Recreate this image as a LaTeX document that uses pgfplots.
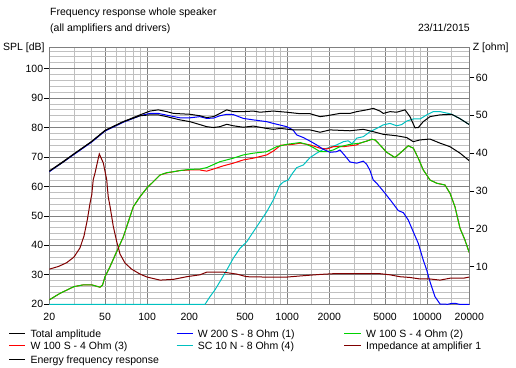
\documentclass[border=0pt]{standalone}
\usepackage{fontspec}
\setmainfont{Liberation Sans}
\usepackage{pgfplots}
\pgfplotsset{compat=1.18}
\definecolor{gmaj}{RGB}{128,128,128}
\definecolor{gmin}{RGB}{192,192,192}
\definecolor{cgreen}{RGB}{0,210,0}
\definecolor{ccyan}{RGB}{0,192,192}
\definecolor{cdred}{RGB}{128,0,0}
\newcommand{\tf}{\fontsize{10.5bp}{12bp}\selectfont}
\begin{document}
\begin{tikzpicture}[font=\tf]
\path[use as bounding box] (-49.3bp,-63.7bp) rectangle (466.7bp,304.3bp);
\begin{axis}[
  at={(0,0)}, anchor=south west, scale only axis,
  width=420bp, height=256.6bp,
  xmode=log, xmin=20, xmax=20000,
  /pgf/number format/assume math mode=true,
  tick label style={font=\tf},
  tick align=outside,
  major tick length=5bp, minor tick length=0pt,
  ymin=20, ymax=107.1,
  xtick={20,50,100,200,500,1000,2000,5000,10000,20000},
  xticklabels={20,50,100,200,500,1000,2000,5000,10000,20000},
  minor xtick={30,40,60,70,80,90,150,300,400,600,700,800,900,1500,3000,4000,6000,7000,8000,9000,15000},
  ytick={20,30,...,100},
  minor ytick={22,24,...,106},
  grid=both,
  major grid style={gmaj, line width=0.8bp},
  minor grid style={gmin, line width=0.8bp},
  axis line style={gmaj, line width=0.8bp},
  xtick style={draw=none},
  ytick style={black, line width=0.7bp},
  xtick pos=bottom, ytick pos=left,
  xticklabel style={anchor=base, inner sep=0pt, yshift=-11.2bp},
  yticklabel style={inner sep=1bp},
  every axis plot/.append style={line width=1bp, mark=none},
]
% SC 10 N - 8 Ohm (4)
\addplot[ccyan] coordinates {
(20,20) (259,20) (281,22.6) (305,24.9) (331,27.7) (370,31.6) (412,35.6) (460,39.0)
(514,41.2) (573,44.6) (640,48.0) (714,51.4) (796,55.4) (889,60.5) (938,61.5)
(1018,62.2) (1078,64.1) (1170,66.4) (1305,67.3) (1456,69.8) (1626,71.3) (1812,72.6)
(2024,73.3) (2260,74.1) (2518,75.2) (2734,75.5) (2900,74.5) (3140,76.4) (3500,76.9)
(3910,78.6) (4360,79.7) (4860,80.9) (5430,81.4) (6060,80.6) (6580,81.0) (7140,82.2)
(7960,82.9) (8890,82.9) (9930,84.3) (11060,85.4) (12360,85.4) (14160,84.8)
(14960,84.5) (17170,83.0) (19680,81.2) (20000,81.0)};
% W 100 S - 4 Ohm (3)
\addplot[red] coordinates {
(20,21.5) (23.8,23.7) (30,26.0) (35,26.6) (40.2,26.6) (46,25.8) (48,26.5) (50,29.4)
(54.3,32.8) (60.6,37.9) (67.6,42.9) (79.6,53.1) (88.9,56.5) (99.2,59.4) (113.8,62.2)
(123.6,63.9) (138,64.6) (154,65.0) (171.6,65.4) (202,65.6) (238,65.6) (266,65.2)
(297,65.9) (350,67.0) (412,67.9) (486,69.0) (573,69.6) (714,70.7) (796,72.0)
(900,74.0) (1100,74.3) (1236,74.7) (1456,74.1) (1718,73.0) (1916,72.7) (2138,73.5)
(2518,73.5) (2812,73.8) (3140,74.1) (3310,74.7) (3700,75.4) (4020,76.0) (4240,75.8)
(4600,74.1) (5140,71.6) (5890,69.8) (6580,71.8) (7330,73.8) (7960,73.0) (8640,69.6)
(9380,65.6) (9930,63.9) (10470,62.2) (11700,61.1) (13400,60.5) (14560,57.7)
(15800,53.1) (17170,45.8) (18620,41.8) (20000,37.5)};
% W 100 S - 4 Ohm (2)
\addplot[cgreen] coordinates {
(20,21.5) (23.8,23.7) (30,26.0) (35,26.6) (40.2,26.6) (46,25.8) (48,26.5) (50,29.4)
(54.3,32.8) (60.6,37.9) (67.6,42.9) (79.6,53.1) (88.9,56.5) (99.2,59.4) (113.8,62.2)
(123.6,63.9) (138,64.7) (154,65.0) (171.6,65.4) (202,65.8) (238,65.9) (266,66.4)
(331,68.4) (412,69.6) (486,70.7) (573,71.3) (714,71.8) (842,73.5) (992,74.3)
(1236,74.9) (1380,74.3) (1538,73.2) (1718,71.8) (1916,71.8) (2138,72.4) (2384,73.5)
(2812,74.3) (3310,74.7) (3700,75.4) (4020,76.0) (4240,75.8) (4600,74.1) (5140,71.6)
(5890,69.8) (6580,71.8) (7330,73.8) (7960,73.0) (8640,69.6) (9380,65.6) (9930,63.9)
(10470,62.2) (11700,61.1) (13400,60.5) (14560,57.7) (15800,53.1) (17170,45.8)
(18620,41.8) (20000,37.5)};
% W 200 S - 8 Ohm (1)
\addplot[blue] coordinates {
(20,65.0) (29.7,70.7) (40,75.0) (50,78.8) (67.6,81.8) (88.9,84.0) (104.8,84.8)
(120,84.8) (138,84.2) (171.6,83.3) (202,83.3) (238,83.7) (266,83.1) (297,83.2)
(331,84.0) (370,84.5) (412,84.4) (486,83.1) (573,82.6) (714,82.0) (796,81.4)
(992,80.3) (1100,79.2) (1170,77.5) (1305,76.6) (1456,75.4) (1626,74.1) (1812,72.6)
(2024,71.6) (2260,71.8) (2384,72.4) (2590,70.4) (2812,68.3) (3140,67.9) (3500,68.6)
(3700,67.5) (3900,65.5) (4120,62.2) (4360,61.1) (5000,57.7) (5580,54.8) (6220,51.8)
(6760,51.1) (7330,48.6) (7960,44.6) (8640,40.7) (9380,35.0) (9930,31.6) (10470,27.7)
(11370,22.6) (12360,20.1) (14000,20.0) (15000,20.3) (16000,20.3) (17000,20.0)
(20000,20.0)};
% Energy frequency response
\addplot[black] coordinates {
(20,65.2) (29.7,70.9) (40,75.2) (50,79.0) (67.6,82.0) (88.9,84.0) (104.8,84.3)
(120,84.3) (138,83.7) (171.6,82.6) (202,82.0) (238,81.0) (266,80.3) (297,80.0)
(331,80.3) (370,81.1) (412,80.6) (486,80.1) (573,80.5) (714,79.7) (796,79.4)
(900,79.7) (1100,79.2) (1456,79.2) (1718,78.4) (2024,79.2) (2812,78.9) (3500,79.4)
(4120,78.6) (4860,77.7) (6060,77.2) (7140,76.6) (7960,75.2) (8890,75.8) (10470,76.1)
(12360,74.7) (14560,73.5) (17170,71.3) (19680,69.0) (20000,68.7)};
% Total amplitude
\addplot[black] coordinates {
(20,65.2) (25,68.2) (29.7,70.9) (40,75.2) (50,79.0) (67.6,82.0) (88.9,84.3)
(104.8,85.6) (120,86.0) (138,85.4) (154,84.8) (202,84.5) (238,84.0) (266,83.4)
(297,83.7) (331,84.8) (370,86.0) (412,85.4) (486,85.4) (573,85.6) (640,85.2)
(796,85.6) (992,85.2) (1236,84.7) (1456,84.7) (1718,83.7) (1916,84.0) (2384,84.8)
(2812,84.8) (3140,85.4) (3700,86.0) (4120,86.5) (4600,85.6) (4860,84.8) (5430,85.4)
(6060,85.2) (6950,86.0) (7540,83.7) (8190,79.9) (8640,80.0) (9380,82.0) (10470,83.7)
(12360,84.3) (14960,84.5) (17170,83.0) (19680,81.2) (20000,81.0)};
\end{axis}
\begin{axis}[
  at={(0,0)}, anchor=south west, scale only axis,
  width=420bp, height=256.6bp,
  xmode=log, xmin=20, xmax=20000,
  /pgf/number format/assume math mode=true,
  tick label style={font=\tf},
  tick align=outside,
  major tick length=5bp, minor tick length=0pt,
  ymin=0, ymax=67.9,
  axis x line=none,
  axis y line*=right,
  ytick={10,20,...,60},
  axis line style={gmaj, line width=0.8bp},
  ytick style={black, line width=0.7bp},
  yticklabel style={inner sep=1.5bp},
  every axis plot/.append style={line width=1bp, mark=none},
]
% Impedance at amplifier 1
\addplot[cdred] coordinates {
(20,9.3) (23.2,10.0) (26.6,11.0) (30,12.5) (33.1,14.9) (35.4,18.1) (37.4,22.4)
(39.1,26.8) (40.2,29.0) (41.2,33.0) (42.4,34.7) (45.5,39.8) (48.6,37.4) (51.4,33.0)
(52.7,28.5) (54.3,25.9) (57.3,20.6) (60.6,16.6) (64,13.3) (69.5,10.9) (77.5,9.3)
(88.9,8.0) (100,7.2) (123.6,6.4) (154,6.6) (191.6,7.3) (238,7.8) (266,8.5) (350,8.5)
(436,8.0) (514,7.3) (714,7.2) (992,7.2) (1236,7.5) (1718,7.9) (2138,8.1) (4600,8.1)
(5430,7.8) (6390,7.3) (7540,7.1) (8890,6.7) (10470,6.7) (12360,6.4) (14560,6.9)
(18110,6.9) (20000,7.2)};
\end{axis}
% titles
\node[anchor=base west, inner sep=0] at (0.7bp,288.6bp) {Frequency response whole speaker};
\node[anchor=base west, inner sep=0] at (0.7bp,273bp) {(all amplifiers and drivers)};
\node[anchor=base east, inner sep=0] at (420.7bp,273bp) {23/11/2015};
\node[anchor=base west, inner sep=0] at (-46.3bp,253.6bp) {SPL [dB]};
\node[anchor=base west, inner sep=0] at (423.4bp,253.6bp) {Z [ohm]};
% legend
\begin{scope}[line width=1bp]
\draw[black] (-40bp,-29bp) -- (-24.3bp,-29bp);
\node[anchor=base west, inner sep=0] at (-19.3bp,-33bp) {Total amplitude};
\draw[blue] (127.4bp,-29bp) -- (144bp,-29bp);
\node[anchor=base west, inner sep=0] at (148bp,-33bp) {W 200 S - 8 Ohm (1)};
\draw[cgreen] (295bp,-29bp) -- (311.7bp,-29bp);
\node[anchor=base west, inner sep=0] at (316.4bp,-33bp) {W 100 S - 4 Ohm (2)};
\draw[red] (-40bp,-41.4bp) -- (-24.3bp,-41.4bp);
\node[anchor=base west, inner sep=0] at (-19.3bp,-45.4bp) {W 100 S - 4 Ohm (3)};
\draw[ccyan] (127.4bp,-41.4bp) -- (144bp,-41.4bp);
\node[anchor=base west, inner sep=0] at (148bp,-45.4bp) {SC 10 N - 8 Ohm (4)};
\draw[cdred] (295bp,-41.4bp) -- (311.7bp,-41.4bp);
\node[anchor=base west, inner sep=0] at (316.4bp,-45.4bp) {Impedance at amplifier 1};
\draw[black] (-40bp,-55bp) -- (-24.3bp,-55bp);
\node[anchor=base west, inner sep=0] at (-19.3bp,-59bp) {Energy frequency response};
\end{scope}
\end{tikzpicture}
\end{document}
